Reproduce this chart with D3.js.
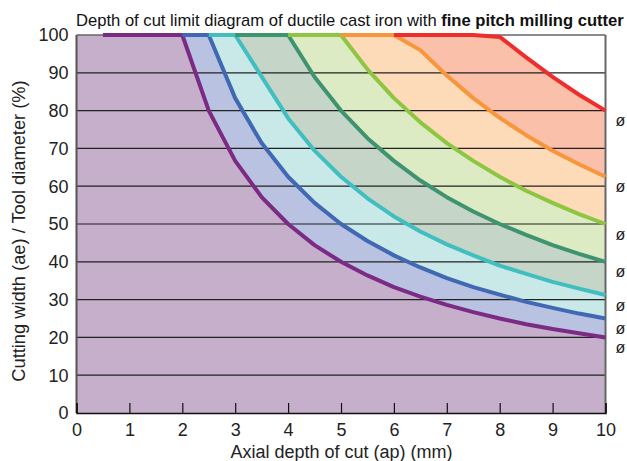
<!DOCTYPE html>
<html>
<head>
<meta charset="utf-8">
<script src="https://cdn.jsdelivr.net/npm/d3@7"></script>
<style>
  body { margin: 0; background: white; }
  svg { display: block; font-family: "Liberation Sans", Arial, sans-serif; }
</style>
</head>
<body>
<div id="chart-area"></div>
<script>
// depth of cut limits, [ap (mm), ae (%)]
const purple = [[0.5, 100], [2, 100], [2.5, 80], [3, 66.7], [3.5, 57.1], [4, 50], [4.5, 44.4], [5, 40], [5.5, 36.4], [6, 33.3], [6.5, 30.8], [7, 28.6], [7.5, 26.7], [8, 25], [8.5, 23.5], [9, 22.2], [9.5, 21.1], [10, 20]]
const blue = [[2, 100], [2.5, 100], [3, 83.3], [3.5, 71.4], [4, 62.5], [4.5, 55.6], [5, 50], [5.5, 45.5], [6, 41.7], [6.5, 38.5], [7, 35.7], [7.5, 33.3], [8, 31.3], [8.5, 29.4], [9, 27.8], [9.5, 26.3], [10, 25]]
const cyan = [[2.5, 100], [3, 100], [3.5, 89], [4, 78], [4.5, 69.4], [5, 62.5], [5.5, 56.8], [6, 52], [6.5, 48], [7, 44.6], [7.5, 41.7], [8, 39], [8.5, 36.8], [9, 34.7], [9.5, 32.9], [10, 31.2]]
const darkGreen = [[3, 100], [4, 100], [4.5, 88.9], [5, 80], [5.5, 72.7], [6, 66.7], [6.5, 61.5], [7, 57.1], [7.5, 53.3], [8, 50], [8.5, 47.1], [9, 44.4], [9.5, 42.1], [10, 40]]
const lightGreen = [[4, 100], [5, 100], [5.5, 90.9], [6, 83.3], [6.5, 76.9], [7, 71.4], [7.5, 66.7], [8, 62.5], [8.5, 58.8], [9, 55.6], [9.5, 52.6], [10, 50]]
const orange = [[5, 100], [6, 100], [6.5, 96], [7, 89.3], [7.5, 83.3], [8, 78.1], [8.5, 73.5], [9, 69.4], [9.5, 65.8], [10, 62.5]]
const red = [[6, 100], [7.5, 100], [8, 99.5], [8.5, 94.1], [9, 88.9], [9.5, 84.2], [10, 80]]

const xTicks = [0, 1, 2, 3, 4, 5, 6, 7, 8, 9, 10]
const yTicks = [0, 10, 20, 30, 40, 50, 60, 70, 80, 90, 100]
const endLabels = ["ø", "ø", "ø", "ø", "ø", "ø", "ø"]

const series = [
    {data: purple, line: "#7c2b85", fill: "#c6afcb"},
    {data: blue, line: "#4068b3", fill: "#b9c2e1"},
    {data: cyan, line: "#41bfc0", fill: "#c9e8e8"},
    {data: darkGreen, line: "#3f9470", fill: "#c5d5c8"},
    {data: lightGreen, line: "#8dc641", fill: "#dcebc3"},
    {data: orange, line: "#f7963c", fill: "#fddab8"},
    {data: red, line: "#ee2e2c", fill: "#fbc0aa"}
]

const margin = {left: 76.5, right: 21.5, top: 35, bottom: 48}
const width = 627 - margin.left - margin.right,
    height = 461 - margin.top - margin.bottom

const svg = d3.select("#chart-area").append("svg")
    .attr("width", 627)
    .attr("height", 461)

const g = svg.append("g")
    .attr("transform", `translate(${margin.left}, ${margin.top})`)

const x = d3.scaleLinear().domain([0, 10]).range([0, width])
const y = d3.scaleLinear().domain([0, 100]).range([height, 0])

// fills, top band first so the lower ones sit over it
const area = d3.area()
    .x(d => x(d[0]))
    .y0(y(0))
    .y1(d => y(d[1]))

series.slice().reverse().forEach(s => {
    const pts = s.data === purple ? [[0, 100]].concat(s.data) : s.data
    g.append("path")
        .attr("d", area(pts))
        .attr("fill", s.fill)
})

// grid
g.append("g")
    .selectAll("line")
    .data(yTicks.filter(t => t > 0 && t < 100))
    .join("line")
    .attr("x1", 0)
    .attr("x2", width)
    .attr("y1", d => y(d))
    .attr("y2", d => y(d))
    .attr("stroke", "#222")
    .attr("stroke-width", 1.2)

// frame
g.append("line").attr("x1", 0).attr("x2", width).attr("y1", 0).attr("y2", 0)
    .attr("stroke", "#666").attr("stroke-width", 1.5)
g.append("line").attr("x1", width).attr("x2", width).attr("y1", 0).attr("y2", height)
    .attr("stroke", "#666").attr("stroke-width", 2)
g.append("line").attr("x1", 0).attr("x2", 0).attr("y1", 0).attr("y2", height)
    .attr("stroke", "#555").attr("stroke-width", 2)

// limit curves
const line = d3.line()
    .x(d => x(d[0]))
    .y(d => y(d[1]))

series.forEach(s => {
    g.append("path")
        .attr("d", line(s.data))
        .attr("fill", "none")
        .attr("stroke", s.line)
        .attr("stroke-width", 4)
        .attr("stroke-linejoin", "round")
})

// X axis, ticks pointing inward
const xAxisCall = d3.axisBottom(x)
    .tickValues(xTicks)
    .tickSize(-10)
    .tickPadding(10)
    .tickFormat(d3.format("d"))

const xAxis = g.append("g")
    .attr("transform", `translate(0, ${height})`)
    .call(xAxisCall)
xAxis.select(".domain").attr("stroke", "#111").attr("stroke-width", 1.5)
xAxis.selectAll(".tick line").attr("stroke", "#111").attr("stroke-width", 1.2)
xAxis.selectAll("text")
    .attr("font-size", "18px")
    .attr("font-family", "Liberation Sans, Arial, sans-serif")
    .attr("fill", "#222")

// Y tick labels
g.append("g")
    .selectAll("text")
    .data(yTicks)
    .join("text")
    .attr("x", -8)
    .attr("y", d => y(d))
    .attr("dy", "0.35em")
    .attr("text-anchor", "end")
    .attr("font-size", "18px")
    .attr("fill", "#222")
    .text(d => d)

// end labels at the page edge
g.append("g")
    .selectAll("text")
    .data(series)
    .join("text")
    .attr("x", width + 10)
    .attr("y", s => y(s.data[s.data.length - 1][1]) + 10)
    .attr("dy", "0.35em")
    .attr("font-size", "16px")
    .attr("fill", "#222")
    .text((s, i) => endLabels[i])

// X Label
g.append("text")
    .attr("x", 341.5 - margin.left)
    .attr("y", height + 44.5)
    .attr("font-size", "18px")
    .attr("text-anchor", "middle")
    .attr("fill", "#222")
    .text("Axial depth of cut (ap) (mm)")

// Y Label
g.append("text")
    .attr("x", -(231 - margin.top))
    .attr("y", -margin.left + 25)
    .attr("font-size", "18.3px")
    .attr("text-anchor", "middle")
    .attr("transform", "rotate(-90)")
    .attr("fill", "#222")
    .text("Cutting width (ae) / Tool diameter (%)")

// title, squeezed to the width it takes in the original
const title = svg.append("text")
    .attr("x", 76)
    .attr("y", 26)
    .attr("font-size", "16px")
    .attr("fill", "#111")
title.append("tspan").text("Depth of cut limit diagram of ductile cast iron with ")
title.append("tspan").attr("font-weight", "bold").text("fine pitch milling cutter")
const tw = title.node().getComputedTextLength()
title.attr("transform", `translate(76, 0) scale(${548 / tw}, 1) translate(-76, 0)`)
</script>
</body>
</html>
